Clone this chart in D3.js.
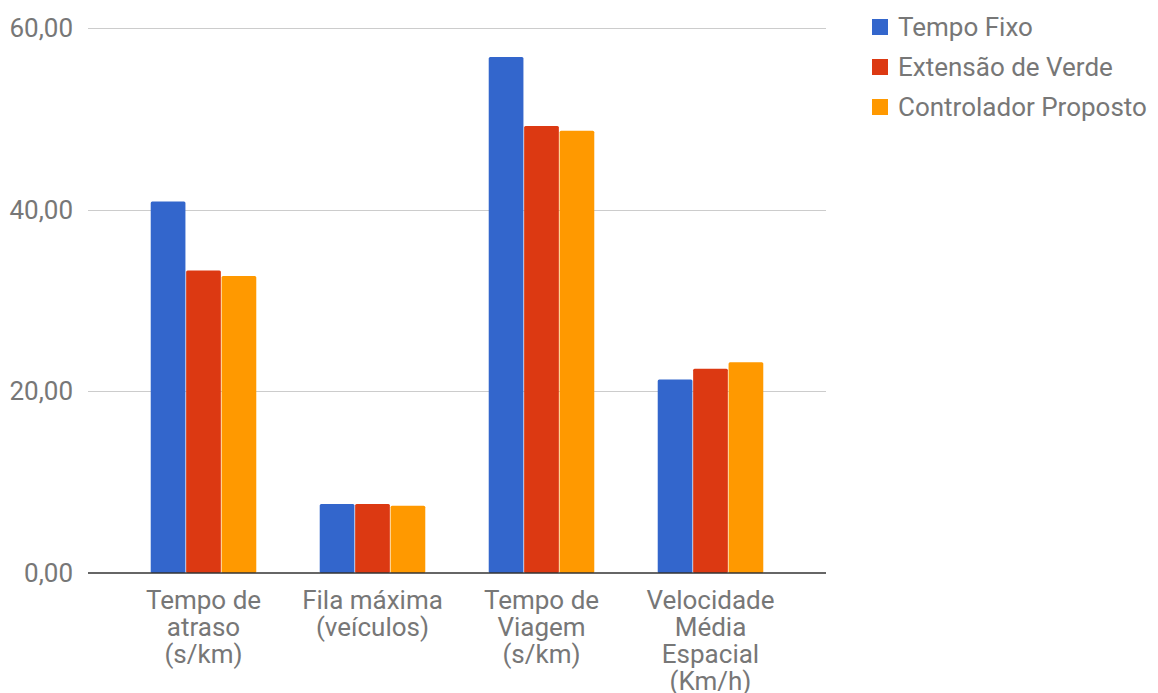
<!DOCTYPE html>
<html>
<head>
<meta charset="utf-8">
<script src="https://cdn.jsdelivr.net/npm/d3@7"></script>
<style>
  body { margin: 0; background: #fff; }
  svg text { font-family: Roboto, "Noto Sans", sans-serif; }
</style>
</head>
<body>
<svg id="chart" width="1158" height="693"></svg>
<script>
const categories = [
  ["Tempo de", "atraso", "(s/km)"],
  ["Fila máxima", "(veículos)"],
  ["Tempo de", "Viagem", "(s/km)"],
  ["Velocidade", "Média", "Espacial", "(Km/h)"]
];
const seriesNames = ["Tempo Fixo", "Extensão de Verde", "Controlador Proposto"];
const seriesColors = ["#3366cc", "#dc3912", "#ff9900"];
const tempoFixo = [40.9, 7.6, 56.8, 21.3];
const extensaoVerde = [33.3, 7.6, 49.2, 22.5];
const controlador = [32.7, 7.4, 48.7, 23.2];
const yTicks = [0, 20, 40, 60];

const series = [tempoFixo, extensaoVerde, controlador];
const svg = d3.select("#chart");
const labelColor = "#777777";
const fontSize = 26;
const fmt = (d) => d3.format(".2f")(d).replace(".", ",");

const plotLeft = 88, plotRight = 826;
const y = d3.scaleLinear().domain([0, 60]).range([573, 28]);
const x0 = d3.scaleBand()
  .domain(d3.range(categories.length))
  .range([119, 795])
  .paddingInner(0.367)
  .paddingOuter(0.1835);
const x1 = d3.scaleBand().domain(d3.range(series.length)).range([0, x0.bandwidth()]).padding(0.02);

// gridlines
svg.append("g")
  .selectAll("line")
  .data(yTicks.filter((d) => d !== 0))
  .join("line")
  .attr("x1", plotLeft)
  .attr("x2", plotRight)
  .attr("y1", (d) => Math.round(y(d)) + 0.5)
  .attr("y2", (d) => Math.round(y(d)) + 0.5)
  .attr("stroke", "#cccccc")
  .attr("stroke-width", 1);

// y labels
svg.append("g")
  .selectAll("text")
  .data(yTicks)
  .join("text")
  .attr("x", 73)
  .attr("y", (d) => y(d))
  .attr("dy", "0.35em")
  .attr("text-anchor", "end")
  .attr("font-size", fontSize)
  .attr("fill", labelColor)
  .text(fmt);

// bars
const groups = svg.append("g")
  .selectAll("g")
  .data(categories.map((c, i) => i))
  .join("g")
  .attr("transform", (i) => `translate(${x0(i)},0)`);

groups.selectAll("rect")
  .data((i) => series.map((s, k) => ({ k, v: s[i] })))
  .join("rect")
  .attr("x", (d) => x1(d.k))
  .attr("width", x1.bandwidth())
  .attr("y", (d) => y(d.v))
  .attr("height", (d) => y(0) - y(d.v))
  .attr("rx", 1.5)
  .attr("fill", (d) => seriesColors[d.k]);

// baseline
svg.append("line")
  .attr("x1", plotLeft)
  .attr("x2", plotRight)
  .attr("y1", y(0))
  .attr("y2", y(0))
  .attr("stroke", "#333333")
  .attr("stroke-width", 1.5);

// x labels
svg.append("g")
  .selectAll("text")
  .data(categories)
  .join("text")
  .attr("text-anchor", "middle")
  .attr("font-size", fontSize)
  .attr("fill", labelColor)
  .attr("transform", (d, i) => `translate(${x0(i) + x0.bandwidth() / 2},609)`)
  .selectAll("tspan")
  .data((d) => d)
  .join("tspan")
  .attr("x", 0)
  .attr("y", (d, j) => j * 27)
  .text((d) => d);

// legend
const legend = svg.append("g")
  .selectAll("g")
  .data(seriesNames)
  .join("g")
  .attr("transform", (d, i) => `translate(872,${27 + i * 40})`);

legend.append("rect")
  .attr("x", 0)
  .attr("y", -8)
  .attr("width", 16)
  .attr("height", 16)
  .attr("fill", (d, i) => seriesColors[i]);

legend.append("text")
  .attr("x", 26)
  .attr("dy", "0.35em")
  .attr("font-size", fontSize)
  .attr("fill", labelColor)
  .text((d) => d);
</script>
</body>
</html>
